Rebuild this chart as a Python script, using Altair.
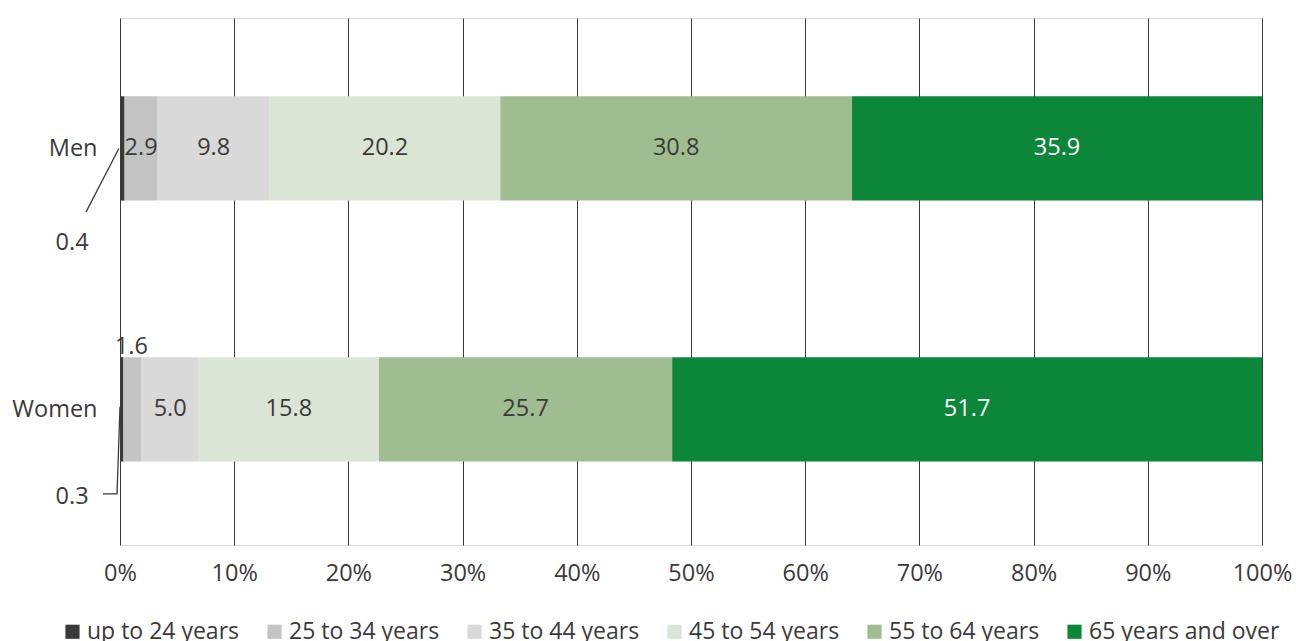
import altair as alt
import pandas as pd

# Share of persons by age group, per sex (percent)
groups = ["up to 24 years", "25 to 34 years", "35 to 44 years",
          "45 to 54 years", "55 to 64 years", "65 years and over"]
men = [0.4, 2.9, 9.8, 20.2, 30.8, 35.9]
women = [0.3, 1.6, 5.0, 15.8, 25.7, 51.7]
sexes = ["Men", "Women"]
colors = ["#3a3a3a", "#c4c4c4", "#d9d9d9", "#dbe5d5", "#a0bd91", "#0c8638"]

FONT = "Open Sans"
TEXT = "#3a3a3a"
FS = 23.5

# row centres on the numeric y scale (1 = Men, 2 = Women), bar half thickness
row_pos = {"Men": 1.0, "Women": 2.0}
half = 0.2

rows = []
for sex, vals in zip(sexes, [men, women]):
    total = sum(vals)
    start = 0.0
    for i, (g, v) in enumerate(zip(groups, vals)):
        end = start + v / total
        rows.append({
            "sex": sex, "group": g, "order": i, "value": v,
            "x0": start, "x1": end, "xm": (start + end) / 2,
            "y": row_pos[sex], "y0": row_pos[sex] - half, "y1": row_pos[sex] + half,
            "label": f"{v:.1f}",
            "light": i == 5,
        })
        start = end
df = pd.DataFrame(rows)

x_scale = alt.Scale(domain=[0, 1], nice=False)
y_scale = alt.Scale(domain=[0.5, 2.52], reverse=True, nice=False, zero=False)

bars = alt.Chart(df).mark_rect().encode(
    x=alt.X("x0:Q", scale=x_scale,
            axis=alt.Axis(values=[i / 10 for i in range(11)], format=".0%",
                          title=None, grid=True, gridColor="#3a3a3a", gridWidth=1,
                          domain=False, ticks=False, labelPadding=16,
                          labelFlush=False, labelOverlap=False,
                          labelFontSize=FS, labelFont=FONT, labelColor=TEXT)),
    x2="x1:Q",
    y=alt.Y("y0:Q", scale=y_scale,
            axis=alt.Axis(values=[1, 2],
                          labelExpr="datum.value == 1 ? 'Men' : 'Women'",
                          title=None, grid=False, domain=False, ticks=False,
                          labelPadding=23, labelFontSize=FS, labelFont=FONT,
                          labelColor=TEXT)),
    y2="y1:Q",
    color=alt.Color("group:N", sort=groups,
                    scale=alt.Scale(domain=groups, range=colors),
                    legend=alt.Legend(title=None, orient="none", direction="horizontal",
                                      legendX=-59, legendY=602,
                                      symbolType="square", symbolSize=200,
                                      symbolStrokeWidth=0, symbolOpacity=1,
                                      labelFontSize=23, labelFont=FONT,
                                      labelColor=TEXT, columnPadding=23,
                                      labelOffset=3, labelLimit=300)),
)

# values printed inside the segments wide enough to hold them
inside = df[~((df["sex"] == "Men") & (df["order"] == 0))
            & ~((df["sex"] == "Women") & (df["order"] <= 1))]
labels = alt.Chart(inside).mark_text(font=FONT, fontSize=FS, baseline="middle").encode(
    x="xm:Q",
    y="y:Q",
    text="label:N",
    color=alt.condition("datum.light", alt.value("white"), alt.value(TEXT)),
)

# callouts for the thinnest segments
call = pd.DataFrame([
    {"text": "0.4", "x": -0.042, "y": 1.362},
    {"text": "0.3", "x": -0.042, "y": 2.336},
    {"text": "1.6", "x": df[(df.sex == "Women") & (df.order == 1)]["xm"].iloc[0] - 0.001,
     "y": 1.761},
])
call_text = alt.Chart(call).mark_text(font=FONT, fontSize=FS, color=TEXT,
                                      baseline="middle").encode(
    x="x:Q", y="y:Q", text="text:N")

leaders = pd.DataFrame([
    {"line": "men", "k": 0, "x": -0.0298, "y": 1.244},
    {"line": "men", "k": 1, "x": -0.001, "y": 1.0},
    {"line": "women", "k": 0, "x": -0.0149, "y": 2.324},
    {"line": "women", "k": 1, "x": -0.0026, "y": 2.324},
    {"line": "women", "k": 2, "x": 0.0, "y": 1.99},
])
leader_lines = alt.Chart(leaders).mark_line(color=TEXT, strokeWidth=1.3).encode(
    x="x:Q", y="y:Q", detail="line:N", order="k:Q")

chart = alt.layer(bars, labels, call_text, leader_lines).properties(
    width=1142, height=527,
    autosize=alt.AutoSizeParams(type="none"),
    padding={"left": 120, "top": 18, "right": 34, "bottom": 96},
).configure_view(stroke=None).configure(font=FONT)

chart.save("out.html", embed_options={"renderer": "svg", "actions": False})
